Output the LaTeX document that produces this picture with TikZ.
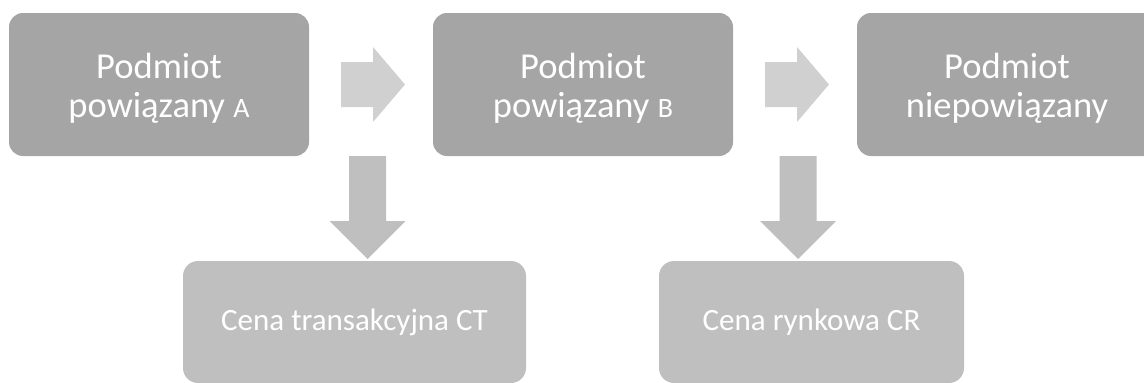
\documentclass[tikz,border=0pt]{standalone}
\usepackage{fontspec}
\setmainfont{Carlito}
\definecolor{topgray}{HTML}{A5A5A5}
\definecolor{lowgray}{HTML}{BFBFBF}
\definecolor{arrgray}{HTML}{D0D0D0}
\tikzset{
  entity/.style={rectangle, rounded corners=14pt, fill=topgray, draw=none,
    minimum width=300pt, minimum height=143pt, inner sep=0pt},
  entitytext/.style={text=white, align=center, inner sep=0pt, yshift=-4pt,
    font=\fontsize{36.5}{39}\selectfont},
  price/.style={rectangle, rounded corners=15pt, fill=lowgray, draw=none,
    minimum height=122pt, inner sep=0pt, text=white,
    font=\fontsize{31}{34}\selectfont},
  flowright/.style={fill=arrgray, draw=none},
  flowdown/.style={fill=lowgray, draw=none}
}
% smaller capital after a party's name
\newcommand{\partytag}[1]{{\fontsize{28}{28}\selectfont #1}}
% right-pointing block arrow: left x, centre y
\newcommand{\rightblock}[2]{%
  \fill[flowright] (#1,#2-22.5) -- (#1+32,#2-22.5) -- (#1+32,#2-37.5)
    -- (#1+64,#2) -- (#1+32,#2+37.5) -- (#1+32,#2+22.5) -- (#1,#2+22.5) -- cycle;}
% downward block arrow: centre x, top y
\newcommand{\downblock}[2]{%
  \fill[flowdown] (#1-18.5,#2) -- (#1+18.5,#2) -- (#1+18.5,#2+65)
    -- (#1+38,#2+65) -- (#1,#2+103) -- (#1-38,#2+65) -- (#1-18.5,#2+65) -- cycle;}
\begin{document}
\begin{tikzpicture}[x=1pt, y=-1pt]
  \useasboundingbox (0,0) rectangle (1144,383);
  \clip (0,0) rectangle (1144,383);

  % related and unrelated parties
  \node[entity, label={[entitytext, name=pa-text]center:Podmiot\\powiązany \partytag{A}}]
    (pa) at (159,84.5) {};
  \node[entity, label={[entitytext, name=pb-text]center:Podmiot\\powiązany \partytag{B}}]
    (pb) at (583,84.5) {};
  \node[entity, label={[entitytext, name=pn-text]center:Podmiot\\niepowiązany}]
    (pn) at (1007,84.5) {};

  % prices
  \node[price, minimum width=343pt] (ct) at (354.5,322) {Cena transakcyjna CT};
  \node[price, minimum width=305pt] (cr) at (811.5,322) {Cena rynkowa CR};

  % flow between the parties
  \rightblock{341}{84.5}
  \rightblock{765}{84.5}

  % flow down to the prices
  \downblock{367.5}{156}
  \downblock{798}{156}
\end{tikzpicture}
\end{document}
